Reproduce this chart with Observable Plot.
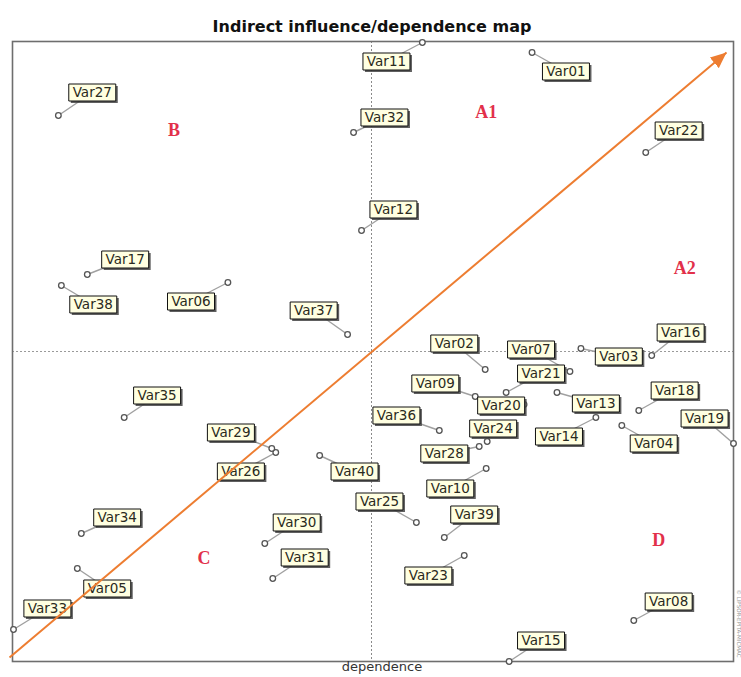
<!DOCTYPE html>
<html><head><meta charset="utf-8">
<script src="https://cdn.jsdelivr.net/npm/d3@7"></script>
<script src="https://cdn.jsdelivr.net/npm/@observablehq/plot@0.6"></script>
<style>body{margin:0;background:#fff} #chart svg{display:block}</style>
</head><body><div id="chart"></div>
<script>
const variables = ["Var01","Var02","Var03","Var04","Var05","Var06","Var07","Var08","Var09","Var10",
  "Var11","Var12","Var13","Var14","Var15","Var16","Var17","Var18","Var19","Var20",
  "Var21","Var22","Var23","Var24","Var25","Var26","Var27","Var28","Var29","Var30",
  "Var31","Var32","Var33","Var34","Var35","Var36","Var37","Var38","Var39","Var40"];
const dependence = [521,474,570,611,65,216,559,623,464,475,
  411,350,546,585,498,641,75,628,723,513,
  495,635,453,476,405,264,46,468,260,253,
  261,342,1,69,112,428,336,49,433,308];
const influence = [609,292,313,236,93,379,290,41,265,193,
  619,431,269,244,0,306,387,251,218,257,
  269,509,106,220,139,209,546,215,213,118,
  83,529,32,128,244,231,327,376,124,206];
const labelDependence = [555,443,608,643,95,179,520,658,424,439,
  375,382,585,548,530,670,113,664,694,490,
  530,668,417,482,368,229,80,433,219,285,
  293,373,35,105,145,385,302,81,463,343];
const labelInfluence = [590,318,305,218,73,360,312,60,278,173,
  600,452,258,225,21,329,402,271,243,256,
  288,531,86,233,160,190,569,208,229,139,
  104,544,53,144,266,246,351,357,147,190];
const quadrantNames = ["A1","A2","B","C","D"];
const quadrantDependence = [475,674,162,192,648];
const quadrantInfluence = [549,393,531,103,121];
const meanDependence = 360;
const meanInfluence = 310;
const arrowDependence = [-3, 716];
const arrowInfluence = [4, 609];

const rows = variables.map((name, i) => ({
  name, dep: dependence[i], inf: influence[i],
  ldep: labelDependence[i], linf: labelInfluence[i]
}));
const quadrants = quadrantNames.map((q, i) => ({q, x: quadrantDependence[i], y: quadrantInfluence[i]}));
const arrow = [{x1: arrowDependence[0], y1: arrowInfluence[0], x2: arrowDependence[1], y2: arrowInfluence[1]}];

const boxSymbol = {
  draw(ctx) {
    ctx.moveTo(-23.5, -8.5); ctx.lineTo(23.5, -8.5); ctx.lineTo(23.5, 8.5); ctx.lineTo(-23.5, 8.5); ctx.closePath();
  }
};

function arrowHead(color, context) {
  const doc = (context && context.document) || document;
  const ns = "http://www.w3.org/2000/svg";
  const m = doc.createElementNS(ns, "marker");
  m.setAttribute("viewBox", "-16 -7 16 14");
  m.setAttribute("markerWidth", 16);
  m.setAttribute("markerHeight", 14);
  m.setAttribute("markerUnits", "userSpaceOnUse");
  m.setAttribute("refX", 0);
  m.setAttribute("refY", 0);
  m.setAttribute("orient", "auto");
  const p = doc.createElementNS(ns, "path");
  p.setAttribute("d", "M-16,-7L0,0L-16,7Z");
  p.setAttribute("fill", color);
  p.setAttribute("stroke", "none");
  m.appendChild(p);
  return m;
}

const chart = Plot.plot({
  width: 741,
  height: 677,
  marginLeft: 12,
  marginRight: 8,
  marginTop: 41,
  marginBottom: 16,
  style: {background: "#fff", overflow: "visible"},
  x: {domain: [0, 723], axis: null},
  y: {domain: [0, 620], axis: null},
  marks: [
    Plot.ruleX([meanDependence], {stroke: "#8a8a8a", strokeWidth: 1, strokeDasharray: "2,2"}),
    Plot.ruleY([meanInfluence], {stroke: "#9a9a9a", strokeWidth: 1, strokeDasharray: "2,2"}),
    Plot.frame({stroke: "#6e6e6e", strokeWidth: 1.6}),
    Plot.link(rows, {x1: "ldep", y1: "linf", x2: "dep", y2: "inf", stroke: "#a0a0a0", strokeWidth: 1.4}),
    Plot.dot(rows, {x: "dep", y: "inf", r: 2.8, stroke: "#555", fill: "white", strokeWidth: 1.3}),
    Plot.dot(rows, {x: "ldep", y: "linf", symbol: boxSymbol, fill: "#444", fillOpacity: 0.85, stroke: "none", dx: 2, dy: 2}),
    Plot.dot(rows, {x: "ldep", y: "linf", symbol: boxSymbol, fill: "#ffffe1", stroke: "#111", strokeWidth: 1}),
    Plot.text(rows, {x: "ldep", y: "linf", text: "name", fontSize: 13.5, fontFamily: "DejaVu Sans", fill: "#2a2a20"}),
    Plot.text(quadrants, {x: "x", y: "y", text: "q", fontSize: 18, fontFamily: "Liberation Serif", fontWeight: "bold", fill: "#e2304a"}),
    Plot.link(arrow, {x1: "x1", y1: "y1", x2: "x2", y2: "y2", stroke: "#ed7d31", strokeWidth: 2, markerEnd: arrowHead}),
    Plot.text(["Indirect influence/dependence map"], {frameAnchor: "top", dx: -1, dy: -21, fontSize: 16, fontWeight: "bold", fontFamily: "DejaVu Sans", fill: "#111"}),
    Plot.text(["dependence"], {frameAnchor: "bottom", dx: 9, dy: 9, fontSize: 13, fontFamily: "DejaVu Sans", fill: "#333"}),
    Plot.text(["© LIPSOR-EPITA-MICMAC"], {frameAnchor: "bottom-right", dx: 3, dy: -4, rotate: 90, textAnchor: "end", fontSize: 5.5, fontFamily: "DejaVu Sans", fill: "#999"})
  ]
});
document.getElementById("chart").appendChild(chart);
</script>
</body></html>
